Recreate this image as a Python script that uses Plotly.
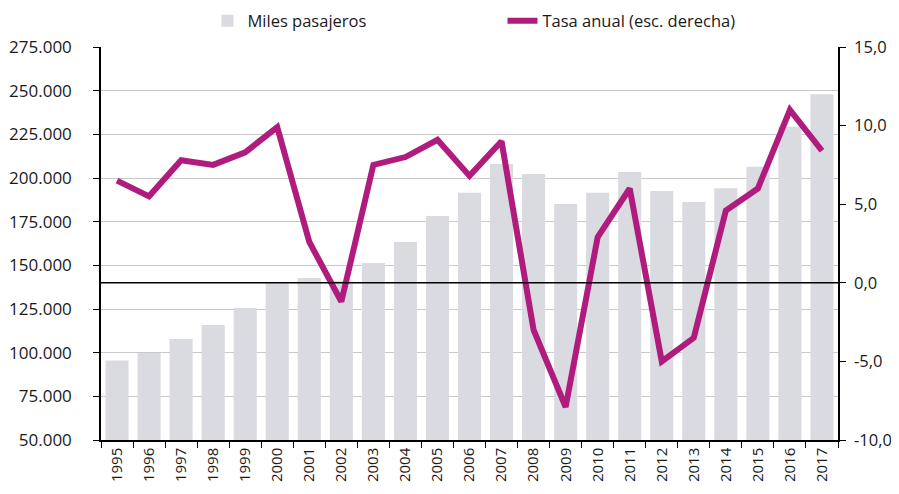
import plotly.graph_objects as go

years = [str(y) for y in range(1995, 2018)]
pasajeros = [95500, 99800, 107800, 115800, 125600, 139700, 142800, 141200, 151300,
             163300, 178200, 191600, 208000, 202300, 185100, 191600, 203400, 192500,
             186200, 194200, 206400, 229300, 248000]
tasa = [6.5, 5.5, 7.8, 7.5, 8.3, 9.9, 2.6, -1.2, 7.5, 8.0, 9.1, 6.8, 9.0, -3.0,
        -7.9, 2.9, 6.0, -5.0, -3.5, 4.6, 6.0, 11.0, 8.4]

left_vals = [50000, 75000, 100000, 125000, 150000, 175000, 200000, 225000, 250000, 275000]
left_text = ["50.000", "75.000", "100.000", "125.000", "150.000", "175.000",
             "200.000", "225.000", "250.000", "275.000"]
right_vals = [-10, -5, 0, 5, 10, 15]
right_text = ["-10,0", "-5,0", "0,0", "5,0", "10,0", "15,0"]

BAR = "#DADBE0"
MAG = "#B01C7E"
TXT = "#1a1a1a"

fig = go.Figure()
fig.add_trace(go.Bar(x=years, y=pasajeros, name="Miles pasajeros",
                     marker=dict(color=BAR, line=dict(width=0)), yaxis="y"))
fig.add_trace(go.Scatter(x=years, y=tasa, name="Tasa anual (esc. derecha)",
                         mode="lines", line=dict(color=MAG, width=6), yaxis="y2"))

fig.update_layout(
    width=891, height=486,
    margin=dict(l=93, r=61, t=39, b=54, autoexpand=False),
    paper_bgcolor="white", plot_bgcolor="white",
    font=dict(family="Open Sans", size=17, color=TXT),
    bargap=0.28,
    showlegend=True,
    legend=dict(orientation="h", x=0.1445, y=1.066, yanchor="middle", xanchor="left",
                yref="paper", entrywidth=250, entrywidthmode="pixels",
                font=dict(size=16.5, color=TXT), itemwidth=30,
                bgcolor="rgba(0,0,0,0)"),
    xaxis=dict(type="category", showline=True, linecolor="black", linewidth=1.5,
               ticks="outside", tickson="boundaries", ticklen=6, tickcolor="black",
               tickangle=-90, showgrid=False, tickfont=dict(size=15), automargin=False),
    yaxis=dict(range=[50000, 275000], tickvals=left_vals, ticktext=left_text,
               showline=True, linecolor="black", linewidth=1.5, ticks="outside",
               ticklen=6, tickcolor="black", showgrid=True, gridcolor="#C9C9CC",
               gridwidth=1, zeroline=False, automargin=False, ticklabelstandoff=18),
    yaxis2=dict(range=[-10, 15], tickvals=right_vals, ticktext=right_text,
                overlaying="y", side="right", showline=True, linecolor="black",
                linewidth=1.5, ticks="outside", ticklen=6, tickcolor="black",
                showgrid=False, zeroline=False, ticklabelstandoff=5,
                tickfont=dict(size=16.5), automargin=False),
)
fig.add_shape(type="line", xref="paper", x0=0, x1=1, yref="y2", y0=0, y1=0,
              line=dict(color="black", width=1.5), layer="above")

fig.write_html("out.html")
